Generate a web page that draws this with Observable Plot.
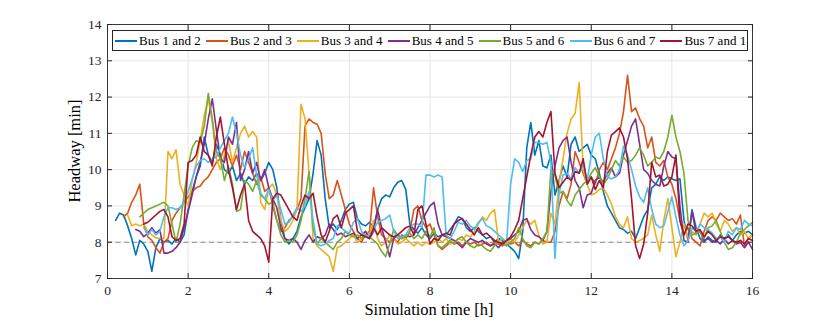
<!DOCTYPE html>
<html><head><meta charset="utf-8">
<script src="https://cdn.jsdelivr.net/npm/d3@7"></script>
<script src="https://cdn.jsdelivr.net/npm/@observablehq/plot@0.6"></script>
<style>
body{margin:0;background:#fff;}
#wrap{position:relative;width:830px;height:321px;font-family:"Liberation Serif",serif;color:#000;}
#legend{position:absolute;left:112px;top:30px;width:636px;height:21px;box-sizing:border-box;border:1px solid #262626;background:#fff;font-size:13px;}
.item{position:absolute;top:0;height:19px;display:flex;align-items:center;white-space:nowrap;}
.swatch{width:22px;height:0;border-top:2px solid;margin-right:2px;}
#xlabel{position:absolute;left:329px;width:200px;text-align:center;top:300px;font-size:16.5px;line-height:20px;}
#ylabel{position:absolute;left:-25px;top:141px;width:200px;text-align:center;font-size:16.5px;line-height:20px;transform-origin:100px 10px;transform:translate(0,0) rotate(-90deg);}
</style></head>
<body><div id="wrap"></div>
<script>
const hours = [0.2,0.3,0.4,0.5,0.6,0.7,0.8,0.9,
1.0,1.1,1.2,1.3,1.4,1.5,1.6,1.7,1.8,1.9,
2.0,2.1,2.2,2.3,2.4,2.5,2.6,2.7,2.8,2.9,
3.0,3.1,3.2,3.3,3.4,3.5,3.6,3.7,3.8,3.9,
4.0,4.1,4.2,4.3,4.4,4.5,4.6,4.7,4.8,4.9,
5.0,5.1,5.2,5.3,5.4,5.5,5.6,5.7,5.8,5.9,
6.0,6.1,6.2,6.3,6.4,6.5,6.6,6.7,6.8,6.9,
7.0,7.1,7.2,7.3,7.4,7.5,7.6,7.7,7.8,7.9,
8.0,8.1,8.2,8.3,8.4,8.5,8.6,8.7,8.8,8.9,
9.0,9.1,9.2,9.3,9.4,9.5,9.6,9.7,9.8,9.9,
10.0,10.1,10.2,10.3,10.4,10.5,10.6,10.7,10.8,10.9,
11.0,11.1,11.2,11.3,11.4,11.5,11.6,11.7,11.8,11.9,
12.0,12.1,12.2,12.3,12.4,12.5,12.6,12.7,12.8,12.9,
13.0,13.1,13.2,13.3,13.4,13.5,13.6,13.7,13.8,13.9,
14.0,14.1,14.2,14.3,14.4,14.5,14.6,14.7,14.8,14.9,
15.0,15.1,15.2,15.3,15.4,15.5,15.6,15.7,15.8,15.9,
16.0];

const bus12 = [8.6,8.8,8.75,8.45,8.1,7.65,8.05,7.95,
7.75,7.2,7.85,8.1,8.0,8.05,7.95,8.1,8.0,8.2,
8.9,9.4,9.8,10.1,10.9,10.4,10.2,10.7,10.4,10.0,
9.9,10.1,9.7,9.9,9.6,9.8,9.7,9.9,9.7,9.9,
10.2,10.0,9.5,8.6,8.1,7.95,8.1,8.3,8.7,8.95,
9.2,9.9,10.8,10.4,9.2,8.4,8.5,8.35,8.6,8.9,
9.05,9.1,8.65,8.5,8.45,8.55,8.4,8.9,9.2,9.3,
9.25,9.5,9.65,9.7,9.45,8.5,8.35,8.25,8.4,8.2,
8.1,8.25,8.15,8.2,8.2,8.35,8.5,8.7,8.65,8.4,
8.3,8.4,8.3,8.2,8.1,8.15,8.0,8.1,8.05,7.95,
7.85,7.75,7.55,8.3,10.6,11.3,10.4,10.8,10.1,10.05,
10.4,9.3,9.7,10.1,9.8,10.7,10.9,10.5,10.6,10.7,
10.4,10.3,9.9,9.4,9.0,8.8,8.6,8.4,8.35,8.25,
8.3,8.1,8.4,8.7,8.9,9.5,9.6,9.8,9.7,9.8,
9.75,9.7,9.75,8.6,8.05,8.9,8.4,8.1,8.0,8.15,
8.05,8.0,8.2,8.1,8.2,8.05,8.2,8.3,8.25,8.3,
8.2];

const bus23 = [null,null,8.7,8.8,9.1,9.3,9.6,8.5,
8.15,8.05,7.85,7.7,8.0,8.1,8.6,8.8,8.95,9.1,
9.25,9.4,9.5,9.55,9.7,9.8,10.0,10.2,10.3,10.6,
10.4,10.1,10.4,10.0,10.5,10.2,9.9,9.6,9.8,9.4,
9.5,9.0,8.6,8.3,8.4,8.6,8.7,8.9,9.2,11.2,
11.4,11.3,11.25,11.0,9.9,9.2,9.3,9.7,9.3,8.9,
8.5,8.3,8.1,8.0,8.2,8.3,9.5,8.7,8.2,8.1,
8.0,8.1,8.0,8.2,8.1,8.3,8.9,9.0,8.6,8.4,
8.5,8.2,7.9,7.8,7.9,8.0,7.95,8.0,7.9,8.0,
7.95,8.0,7.9,7.95,8.0,7.9,8.0,7.95,7.9,8.0,
7.95,8.0,7.9,8.05,7.95,7.9,8.0,7.95,8.05,8.0,
8.0,8.3,9.0,9.4,9.2,9.6,10.5,10.2,9.9,9.6,
9.8,9.6,10.0,10.2,10.0,10.3,10.6,11.0,11.6,12.6,
11.6,11.7,11.4,11.2,10.6,10.9,10.2,10.1,10.25,9.8,
9.6,9.2,8.6,8.2,8.4,8.1,8.0,7.9,8.3,8.6,
8.7,8.6,8.8,8.7,8.6,8.65,8.5,8.75,7.9,8.1,
8.2];

const bus34 = [null,null,null,8.75,8.45,8.5,8.45,8.5,
8.3,8.2,8.12,8.1,8.1,10.5,10.3,10.55,9.6,9.3,
9.0,9.7,10.2,10.8,11.5,11.95,11.3,10.3,10.0,10.4,
10.8,10.2,10.6,11.0,11.2,10.9,11.05,10.9,9.1,8.9,
9.5,9.6,9.3,8.6,8.3,8.4,8.6,8.9,11.8,11.4,
9.9,8.1,7.9,7.8,7.7,7.6,7.2,7.85,7.9,8.0,
8.1,8.2,8.0,8.1,8.3,8.2,8.6,8.1,7.9,8.0,
8.2,8.1,7.95,8.0,8.1,8.0,7.9,8.0,7.9,8.0,
7.95,8.0,8.1,8.0,8.1,7.95,8.0,8.1,8.05,8.2,
8.15,8.3,8.5,8.7,8.6,8.8,8.9,8.0,8.1,7.95,
8.1,8.0,8.2,8.4,8.6,8.5,8.6,8.2,7.95,8.0,
8.8,8.5,9.6,10.3,11.0,11.4,11.55,12.4,10.0,9.6,
9.3,9.35,9.45,9.5,9.3,9.05,8.7,8.5,8.4,8.7,
8.1,8.0,8.05,8.1,8.2,8.75,8.2,7.75,8.6,9.2,
8.4,7.6,8.0,8.5,8.1,8.3,8.2,8.5,8.8,8.7,
8.8,8.5,8.3,8.6,8.5,8.3,8.4,8.2,8.3,8.1,
8.2];

const bus45 = [null,null,null,null,null,8.35,8.3,8.15,
8.25,8.4,8.25,8.35,7.7,7.7,7.75,7.85,8.0,8.4,
8.85,9.3,9.8,10.2,10.7,11.4,11.95,11.1,10.3,10.2,
10.9,10.7,11.3,9.7,10.0,10.5,9.9,10.2,9.7,10.0,
9.5,9.2,8.95,8.4,8.1,8.05,8.1,8.0,7.8,8.05,
8.2,8.0,8.15,8.1,8.2,8.5,8.35,8.2,8.25,8.15,
8.2,8.25,8.1,8.2,8.3,8.1,8.3,8.9,8.4,8.0,
7.6,8.1,8.2,8.1,8.2,8.15,8.2,8.4,8.6,8.8,
9.0,9.1,8.5,8.2,8.15,8.1,8.05,7.95,7.85,8.0,
8.1,8.05,8.0,8.05,7.95,7.9,7.95,7.85,8.0,8.05,
8.1,8.2,8.3,8.6,8.65,8.35,8.2,8.15,8.05,8.3,
9.4,10.1,10.6,10.8,10.9,10.2,9.7,9.5,8.95,9.3,
9.35,9.7,9.8,9.65,9.9,10.05,9.8,9.9,10.4,10.8,
11.2,11.4,10.7,10.0,9.9,9.7,9.6,9.55,10.1,10.5,
10.35,10.3,9.0,8.05,8.0,8.85,8.25,8.3,8.05,8.1,
8.0,8.05,7.95,8.1,7.95,8.05,7.95,8.0,7.85,8.0,
7.8];

const bus56 = [null,null,null,null,null,null,8.7,8.8,
8.9,8.95,9.0,9.05,9.1,9.0,8.5,8.0,8.5,9.3,
10.1,10.6,10.8,10.75,11.2,12.1,11.4,10.5,10.3,9.7,
10.1,9.6,8.85,8.9,9.7,9.6,9.4,9.7,9.3,9.2,
9.05,9.1,8.6,8.2,8.0,8.05,8.0,8.2,8.6,9.2,
9.95,8.4,7.95,8.1,8.0,7.9,7.8,8.0,8.1,8.3,
8.2,8.15,8.2,8.1,8.2,8.15,8.05,7.95,7.75,7.6,
7.95,8.35,8.2,8.1,8.15,8.25,8.1,8.2,8.1,8.3,
8.15,8.4,7.9,7.85,7.95,8.05,7.95,8.1,8.15,8.0,
7.9,7.85,7.95,7.9,7.8,7.75,7.9,8.0,7.95,7.9,
8.0,8.1,8.4,8.1,7.9,7.85,8.0,7.95,8.1,8.3,
10.0,9.85,9.35,9.4,9.15,9.0,9.3,9.45,9.6,9.7,
9.9,10.05,9.8,9.6,9.75,10.0,10.25,10.1,10.35,10.2,
10.25,10.4,10.6,10.4,10.1,10.2,10.35,10.3,10.5,10.9,
11.5,10.9,10.5,9.9,8.6,8.2,8.25,8.3,8.1,8.4,
8.45,8.6,8.3,8.0,7.8,7.85,8.0,8.25,8.35,8.45,
8.55];

const bus67 = [null,null,null,null,null,null,null,8.4,
8.2,8.35,8.2,8.3,8.7,8.95,8.95,8.9,8.95,9.1,
9.4,9.75,10.1,10.25,10.3,10.2,10.3,10.35,10.6,10.8,
11.0,11.45,11.0,10.4,10.05,10.3,10.6,9.85,9.35,9.2,
9.45,9.15,9.3,8.9,8.5,8.55,8.75,8.95,8.85,9.0,
9.4,8.6,7.95,7.9,7.95,8.05,8.1,8.45,8.4,8.3,
8.25,8.55,8.65,8.3,8.15,8.2,8.35,8.55,8.6,8.65,
8.75,8.3,8.1,8.15,8.2,8.4,8.5,8.5,8.4,9.85,
9.85,9.8,9.85,9.8,8.2,8.1,8.3,8.55,8.5,8.6,
8.45,8.35,8.55,8.65,8.45,8.4,8.3,8.2,8.1,8.0,
9.6,10.3,10.2,9.95,10.25,10.3,10.75,10.75,10.7,10.75,
10.2,7.55,9.3,9.85,9.9,9.75,10.05,9.9,10.15,9.7,
10.4,10.9,11.0,10.3,9.8,9.75,9.8,10.0,10.65,10.4,
10.0,9.55,9.25,9.1,9.5,8.9,8.5,8.4,8.45,8.85,
9.25,8.7,8.2,7.9,8.05,8.4,8.3,8.5,8.4,8.35,
8.25,8.1,8.15,8.0,8.3,8.2,8.4,8.35,8.6,8.5,
8.45];

const bus71 = [null,null,null,null,null,null,null,8.5,
8.55,8.65,8.75,8.85,8.9,8.7,8.15,8.05,8.1,8.5,
10.2,10.25,10.4,10.9,10.5,10.4,10.1,10.9,11.45,10.7,
10.0,9.5,8.9,9.3,9.6,8.6,8.3,8.2,8.1,7.9,
7.45,9.2,9.35,9.3,9.1,8.9,8.7,8.6,9.0,9.3,
9.2,9.35,8.7,8.2,8.0,8.3,8.65,8.75,8.4,8.8,
8.9,9.0,8.3,8.2,8.15,8.1,8.4,8.2,8.4,8.3,
8.2,8.15,8.2,8.3,8.4,8.45,8.2,8.9,9.0,8.5,
7.95,8.1,8.05,8.2,8.25,8.2,8.5,8.6,8.65,8.5,
8.35,8.2,8.4,8.2,8.25,8.15,8.05,8.0,7.95,8.05,
8.15,8.35,8.6,9.2,9.8,10.4,10.9,11.05,10.9,11.3,
11.6,9.9,9.5,9.65,9.8,9.7,9.95,9.9,10.3,9.6,
9.8,9.45,9.7,9.5,10.5,10.95,11.05,11.15,10.9,10.3,
9.2,7.9,7.55,7.95,8.8,10.2,9.8,9.85,9.55,9.6,
9.8,10.4,8.6,8.2,8.5,8.45,8.3,8.35,8.15,8.3,
8.2,8.05,8.15,8.1,8.15,8.05,8.0,8.05,7.95,8.1,
8.05];

const seriesNames = ["Bus 1 and 2","Bus 2 and 3","Bus 3 and 4","Bus 4 and 5","Bus 5 and 6","Bus 6 and 7","Bus 7 and 1"];
const seriesColors = ["#0072BD","#D95319","#EDB120","#7E2F8E","#77AC30","#4DBEEE","#A2142F"];
const xTicks = [0,2,4,6,8,10,12,14,16];
const yTicks = [7,8,9,10,11,12,13,14];
const referenceHeadway = [8];
const xLabel = "Simulation time [h]";
const yLabel = "Headway [min]";

const seriesValues = [bus12,bus23,bus34,bus45,bus56,bus67,bus71];
const rows = [];
seriesValues.forEach((vals, k) => {
  vals.forEach((v, i) => { if (v != null) rows.push({t: hours[i], v, s: seriesNames[k]}); });
});

const chart = Plot.plot({
  width: 830, height: 321,
  marginLeft: 107, marginRight: 78, marginTop: 24, marginBottom: 43,
  style: {fontFamily: "'Liberation Serif', serif", fontSize: "13.5px", color: "#262626", background: "#fff"},
  x: {domain: [0,16]},
  y: {domain: [7,14]},
  color: {domain: seriesNames, range: seriesColors},
  marks: [
    Plot.gridX(xTicks, {stroke: "#e6e6e6", strokeOpacity: 1}),
    Plot.gridY(yTicks, {stroke: "#e6e6e6", strokeOpacity: 1}),
    Plot.ruleY(referenceHeadway, {stroke: "#8c8c8c", strokeDasharray: "5,3.5", strokeWidth: 1.1}),
    Plot.line(rows, {x: "t", y: "v", z: "s", stroke: "s", strokeWidth: 1.6, strokeLinejoin: "round"}),
    Plot.frame({stroke: "#262626", strokeWidth: 0.9}),
    Plot.axisX(xTicks, {anchor: "bottom", tickSize: -5, tickPadding: 12, label: null, tickFormat: d3.format("d"), stroke: "#262626"}),
    Plot.axisY(yTicks, {anchor: "left", tickSize: -5, tickPadding: 11, label: null, tickFormat: d3.format("d"), stroke: "#262626"}),
    Plot.axisX(xTicks, {anchor: "top", tickSize: -5, label: null, tickFormat: () => "", stroke: "#262626"}),
    Plot.axisY(yTicks, {anchor: "right", tickSize: -5, label: null, tickFormat: () => "", stroke: "#262626"})
  ]
});

const wrap = document.getElementById("wrap");
wrap.appendChild(chart);

const legend = document.createElement("div");
legend.id = "legend";
seriesNames.forEach((name, k) => {
  const item = document.createElement("div");
  item.className = "item";
  item.style.left = (2 + k * 90.9) + "px";
  const sw = document.createElement("span");
  sw.className = "swatch";
  sw.style.borderTopColor = seriesColors[k];
  const tx = document.createElement("span");
  tx.textContent = name;
  item.appendChild(sw); item.appendChild(tx);
  legend.appendChild(item);
});
wrap.appendChild(legend);

const xl = document.createElement("div"); xl.id = "xlabel"; xl.textContent = xLabel; wrap.appendChild(xl);
const yl = document.createElement("div"); yl.id = "ylabel"; yl.textContent = yLabel; wrap.appendChild(yl);
</script>
</body></html>
